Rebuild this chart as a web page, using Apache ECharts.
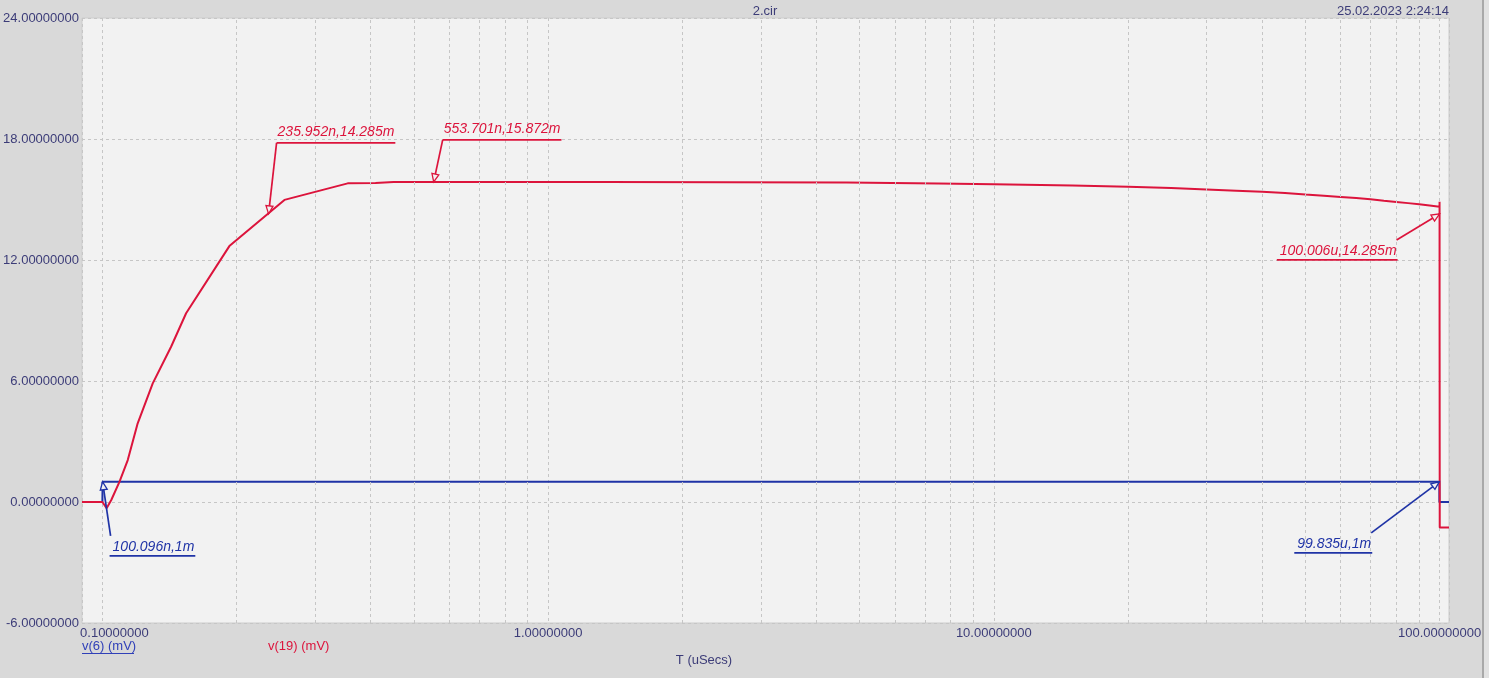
<!DOCTYPE html>
<html>
<head>
<meta charset="utf-8">
<script src="https://cdn.jsdelivr.net/npm/echarts@6/dist/echarts.min.js"></script>
<style>
html,body{margin:0;padding:0;background:#d9d9d9;}
#c{width:1489px;height:678px;}
</style>
</head>
<body>
<div id="c"></div>
<script>
// ---- data ----
const yTicks = [-6, 0, 6, 12, 18, 24];
const xMajor = [0.1, 1, 10, 100];
const minorGrid = [0.2,0.3,0.4,0.5,0.6,0.7,0.8,0.9, 2,3,4,5,6,7,8,9, 20,30,40,50,60,70,80,90];

const blueT = [0.09, 0.1, 0.1001, 99.9, 99.92, 105];
const blueV = [0, 0, 1, 1, 0, 0];

const redT = [0.09, 0.1, 0.1022, 0.1047, 0.1092, 0.114, 0.12, 0.1297, 0.1426, 0.1541, 0.1927, 0.2561, 0.3551, 0.41, 0.45, 1.35, 1.36, 4.67, 4.7, 7.5, 10, 15, 20, 25, 30, 35, 40, 45, 50, 55, 60, 65, 70, 75, 80, 85, 90, 95, 100, 100.002, 100.006, 100.02, 100.1, 105];
const redV = [0, 0, -0.31, 0.1, 1.0, 2.08, 3.9, 5.88, 7.7, 9.36, 12.69, 14.98, 15.80, 15.82, 15.87, 15.87, 15.84, 15.84, 15.80, 15.79, 15.76, 15.69, 15.63, 15.57, 15.50, 15.44, 15.38, 15.32, 15.25, 15.19, 15.13, 15.07, 15.01, 14.94, 14.88, 14.82, 14.76, 14.70, 14.64, 14.89, 14.285, 8.5, -1.27, -1.27];

const annT = [0.100096, 0.235952, 0.553701, 99.835, 100.006];
const annV = [1, 14.285, 15.872, 1, 14.285];
const annText = ['100.096n,1m', '235.952n,14.285m', '553.701n,15.872m', '99.835u,1m', '100.006u,14.285m'];
const annWhich = ['blue', 'red', 'red', 'blue', 'red'];

// ---- layout / style ----
const annLayout = [
  {dx: 8, dy: 54, side: 'belowRight'},
  {dx: 8, dy: -71, side: 'above'},
  {dx: 9, dy: -42, side: 'above'},
  {dx: -68, dy: 51, side: 'belowLeft'},
  {dx: -43, dy: 26, side: 'belowLeft'}
];
const COLORS = {blue: '#1f33a6', red: '#dc143c'};
const TXT = '#3c3c78';
const FONT = '"Liberation Sans", Arial, sans-serif';
const annFont = 'italic 14px "Liberation Sans", Arial, sans-serif';
const mctx = document.createElement('canvas').getContext('2d');
mctx.font = annFont;

function zip(a, b) { return a.map((v, i) => [v, b[i]]); }

function renderAnn(params, api) {
  const i = params.dataIndex;
  const p = api.coord([api.value(0), api.value(1)]);
  const L = annLayout[i];
  const col = COLORS[annWhich[i]];
  const ex = p[0] + L.dx, ey = p[1] + L.dy;
  const text = annText[i];
  const w = mctx.measureText(text).width;
  const ch = [];
  ch.push({type: 'line', shape: {x1: ex, y1: ey, x2: p[0], y2: p[1]}, style: {stroke: col, lineWidth: 1.7}});
  if (L.side === 'above') {
    ch.push({type: 'line', shape: {x1: ex, y1: ey, x2: ex + w + 2, y2: ey}, style: {stroke: col, lineWidth: 1.7}});
    ch.push({type: 'text', x: ex + 1, y: ey - 11, style: {text: text, fill: col, font: annFont, align: 'left', verticalAlign: 'middle'}});
  } else if (L.side === 'belowRight') {
    ch.push({type: 'line', shape: {x1: ex - 1, y1: ey + 20, x2: ex + w + 3, y2: ey + 20}, style: {stroke: col, lineWidth: 1.7}});
    ch.push({type: 'text', x: ex + 2, y: ey + 11, style: {text: text, fill: col, font: annFont, align: 'left', verticalAlign: 'middle'}});
  } else {
    ch.push({type: 'line', shape: {x1: ex - w - 3, y1: ey + 20, x2: ex + 1, y2: ey + 20}, style: {stroke: col, lineWidth: 1.7}});
    ch.push({type: 'text', x: ex, y: ey + 11, style: {text: text, fill: col, font: annFont, align: 'right', verticalAlign: 'middle'}});
  }
  const ang = Math.atan2(p[1] - ey, p[0] - ex);
  const len = 8, hw = 3.5;
  const bx = p[0] - len * Math.cos(ang), by = p[1] - len * Math.sin(ang);
  const px = -Math.sin(ang), py = Math.cos(ang);
  ch.push({type: 'polygon', shape: {points: [[p[0], p[1]], [bx + hw * px, by + hw * py], [bx - hw * px, by - hw * py]]},
    style: {fill: '#f2f2f2', stroke: col, lineWidth: 1.3}});
  return {type: 'group', children: ch};
}

const chart = echarts.init(document.getElementById('c'), null, {renderer: 'canvas'});
const dash = {type: [3, 3], color: '#c6c6c6', width: 1};

chart.setOption({
  animation: false,
  backgroundColor: '#d9d9d9',
  grid: {left: 82, right: 40, top: 18, bottom: 55, show: true, backgroundColor: '#f2f2f2', borderColor: '#cccccc', borderWidth: 1},
  xAxis: {
    type: 'log', logBase: 10, min: 0.09, max: 105,
    axisLine: {show: false}, axisTick: {show: false},
    splitLine: {show: true, lineStyle: dash},
    axisLabel: {
      showMinLabel: false, showMaxLabel: false, margin: 4,
      color: TXT, fontSize: 13, fontFamily: FONT,
      formatter: function (v) {
        const s = Number(v).toFixed(8);
        if (Math.abs(v - xMajor[0]) < 1e-9) return '{f|' + s + '}';
        return s;
      },
      rich: {f: {color: TXT, fontSize: 13, fontFamily: FONT, padding: [0, 0, 0, 24]}}
    }
  },
  yAxis: {
    type: 'value', min: yTicks[0], max: yTicks[yTicks.length - 1], interval: 6,
    axisLine: {show: false}, axisTick: {show: false},
    splitLine: {show: true, lineStyle: dash},
    axisLabel: {margin: 3, color: TXT, fontSize: 13, fontFamily: FONT, formatter: v => Number(v).toFixed(8)}
  },
  graphic: [
    {type: 'text', x: 765, y: 11, style: {text: '2.cir', fill: TXT, font: '13px ' + FONT, align: 'center', verticalAlign: 'middle'}},
    {type: 'text', x: 1449, y: 11, style: {text: '25.02.2023 2:24:14', fill: TXT, font: '13px ' + FONT, align: 'right', verticalAlign: 'middle'}},
    {type: 'text', x: 82, y: 646, style: {text: 'v(6) (mV)', fill: '#3040b8', font: '13px ' + FONT, align: 'left', verticalAlign: 'middle'}},
    {type: 'line', shape: {x1: 82, y1: 653.5, x2: 134, y2: 653.5}, style: {stroke: '#3040b8', lineWidth: 1}},
    {type: 'text', x: 268, y: 646, style: {text: 'v(19) (mV)', fill: '#dc143c', font: '13px ' + FONT, align: 'left', verticalAlign: 'middle'}},
    {type: 'text', x: 704, y: 660, style: {text: 'T (uSecs)', fill: TXT, font: '13px ' + FONT, align: 'center', verticalAlign: 'middle'}},
    {type: 'rect', shape: {x: 1482, y: 0, width: 2, height: 678}, style: {fill: '#a9a9a9'}},
    {type: 'rect', shape: {x: 1484, y: 0, width: 5, height: 678}, style: {fill: '#e2e2e2'}}
  ],
  series: [
    {
      name: 'grid', type: 'line', data: [], z: 1, silent: true,
      markLine: {silent: true, symbol: ['none', 'none'], label: {show: false}, animation: false,
        lineStyle: dash, data: minorGrid.map(v => ({xAxis: v}))}
    },
    {
      name: 'v(6)', type: 'line', data: zip(blueT, blueV), showSymbol: false, symbol: 'none', z: 3,
      lineStyle: {color: COLORS.blue, width: 2}, itemStyle: {color: COLORS.blue}
    },
    {
      name: 'v(19)', type: 'line', data: zip(redT, redV), showSymbol: false, symbol: 'none', z: 4,
      lineStyle: {color: COLORS.red, width: 2}, itemStyle: {color: COLORS.red}
    },
    {
      name: 'ann', type: 'custom', coordinateSystem: 'cartesian2d', clip: false, z: 5, silent: true,
      data: zip(annT, annV), renderItem: renderAnn
    }
  ]
});
</script>
</body>
</html>
